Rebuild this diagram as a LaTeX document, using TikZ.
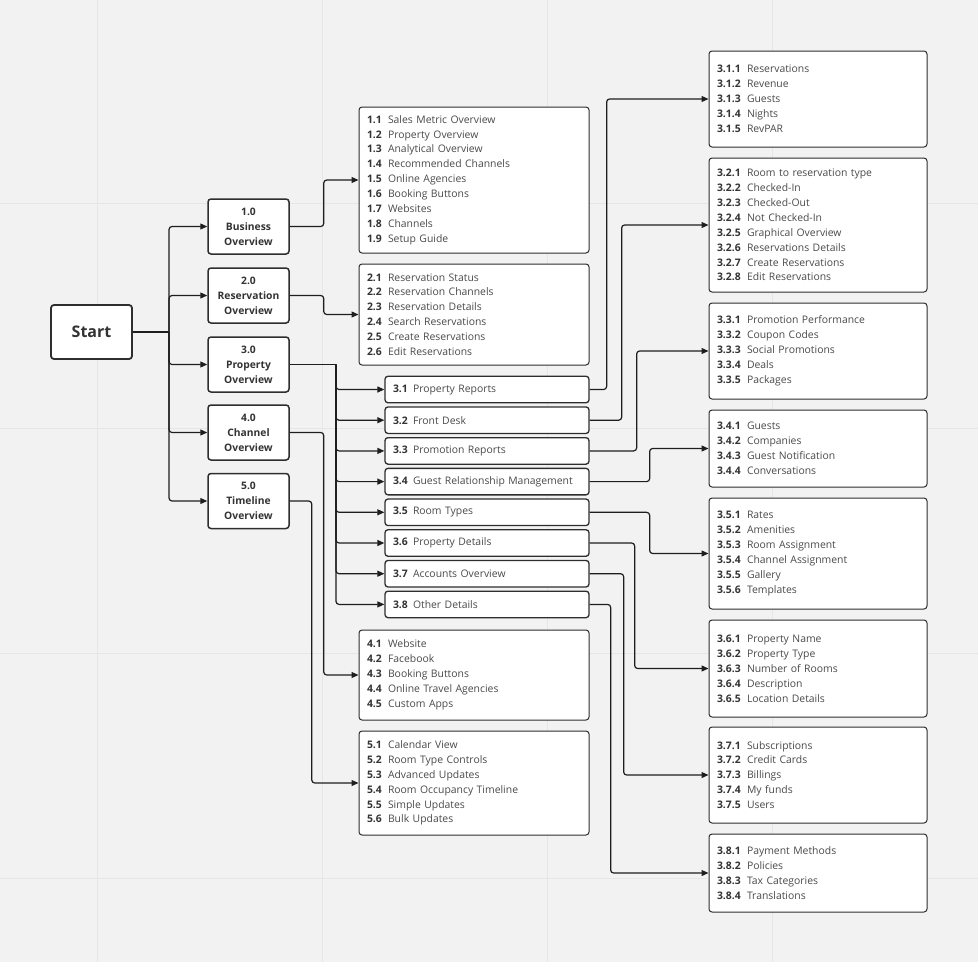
\documentclass[tikz,border=0pt]{standalone}
\usepackage{fontspec}
\setmainfont{Open Sans}
\usetikzlibrary{arrows.meta}
\definecolor{bgc}{HTML}{F2F2F2}
\definecolor{gridc}{HTML}{E6E6E6}
\definecolor{linec}{HTML}{1E1E1E}
\definecolor{boxc}{HTML}{2E2E2E}
\definecolor{numc}{HTML}{333333}
\definecolor{txtc}{HTML}{4A4A4A}
\newcommand\ia[2]{\makebox[21pt][l]{\bfseries\color{numc}#1}#2}
\newcommand\ib[2]{\makebox[20pt][l]{\bfseries\color{numc}#1}#2}
\newcommand\ic[2]{\makebox[30pt][l]{\bfseries\color{numc}#1}#2}
\begin{document}
\begin{tikzpicture}[x=1pt,y=-1pt,
  startbox/.style={draw=boxc, line width=1.8pt, fill=white, rounded corners=3pt,
    minimum width=81pt, minimum height=54pt, inner sep=0pt,
    font=\fontsize{16}{19}\selectfont\bfseries, text=numc},
  topbox/.style={draw=boxc, line width=1.5pt, fill=white, rounded corners=3pt,
    minimum width=81pt, minimum height=55pt, inner sep=0pt, align=center,
    font=\fontsize{10.3}{15}\selectfont\bfseries, text=numc},
  listbox/.style={draw=boxc, line width=1pt, fill=white, rounded corners=3pt,
    inner xsep=8pt, inner ysep=0pt, align=left,
    font=\fontsize{10.4}{14.9}\selectfont, text=txtc},
  midbox/.style={listbox, line width=1.3pt, text width=188pt, minimum height=26.5pt},
  rbox/.style={listbox, text width=202pt},
  conn/.style={draw=linec, line width=1.2pt, rounded corners=3pt, -{Triangle[length=7pt,width=6pt]}},
]
\useasboundingbox (0,0) rectangle (978,962);
\fill[bgc] (0,0) rectangle (978,962);
\foreach \gx in {97,322,547,772} \draw[gridc, line width=1pt] (\gx,0) -- (\gx,962);
\foreach \gy in {203,428,653,878} \draw[gridc, line width=1pt] (0,\gy) -- (978,\gy);

% Start and level 1
\node[startbox] (start) at (91.5,332) {Start};
\node[topbox] (l1) at (248.5,226.5) {1.0\\Business\\Overview};
\node[topbox] (l2) at (248.5,295.5) {2.0\\Reservation\\Overview};
\node[topbox] (l3) at (248.5,364.5) {3.0\\Property\\Overview};
\node[topbox] (l4) at (248.5,432.5) {4.0\\Channel\\Overview};
\node[topbox] (l5) at (248.5,501) {5.0\\Timeline\\Overview};

% Level 2 lists
\node[listbox, text width=214pt, minimum height=146pt] (b1) at (474,180) {%
\ia{1.1}{Sales Metric Overview}\\
\ia{1.2}{Property Overview}\\
\ia{1.3}{Analytical Overview}\\
\ia{1.4}{Recommended Channels}\\
\ia{1.5}{Online Agencies}\\
\ia{1.6}{Booking Buttons}\\
\ia{1.7}{Websites}\\
\ia{1.8}{Channels}\\
\ia{1.9}{Setup Guide}};
\node[listbox, text width=214pt, minimum height=101pt] (b2) at (474,314.5) {%
\ia{2.1}{Reservation Status}\\
\ia{2.2}{Reservation Channels}\\
\ia{2.3}{Reservation Details}\\
\ia{2.4}{Search Reservations}\\
\ia{2.5}{Create Reservations}\\
\ia{2.6}{Edit Reservations}};
\node[listbox, text width=214pt, minimum height=90pt] (b4) at (474,675) {%
\ia{4.1}{Website}\\
\ia{4.2}{Facebook}\\
\ia{4.3}{Booking Buttons}\\
\ia{4.4}{Online Travel Agencies}\\
\ia{4.5}{Custom Apps}};
\node[listbox, text width=214pt, minimum height=104pt] (b5) at (474,783) {%
\ia{5.1}{Calendar View}\\
\ia{5.2}{Room Type Controls}\\
\ia{5.3}{Advanced Updates}\\
\ia{5.4}{Room Occupancy Timeline}\\
\ia{5.5}{Simple Updates}\\
\ia{5.6}{Bulk Updates}};

% 3.x boxes
\node[midbox] (p1) at (487,389.5) {\ib{3.1}{Property Reports}};
\node[midbox] (p2) at (487,420.2) {\ib{3.2}{Front Desk}};
\node[midbox] (p3) at (487,450.9) {\ib{3.3}{Promotion Reports}};
\node[midbox] (p4) at (487,481.6) {\ib{3.4}{Guest Relationship Management}};
\node[midbox] (p5) at (487,512.3) {\ib{3.5}{Room Types}};
\node[midbox] (p6) at (487,543.0) {\ib{3.6}{Property Details}};
\node[midbox] (p7) at (487,573.7) {\ib{3.7}{Accounts Overview}};
\node[midbox] (p8) at (487,604.4) {\ib{3.8}{Other Details}};

% Level 3 lists
\node[rbox, minimum height=96pt] (r1) at (818,99) {%
\ic{3.1.1}{Reservations}\\
\ic{3.1.2}{Revenue}\\
\ic{3.1.3}{Guests}\\
\ic{3.1.4}{Nights}\\
\ic{3.1.5}{RevPAR}};
\node[rbox, minimum height=134pt] (r2) at (818,225) {%
\ic{3.2.1}{Room to reservation type}\\
\ic{3.2.2}{Checked-In}\\
\ic{3.2.3}{Checked-Out}\\
\ic{3.2.4}{Not Checked-In}\\
\ic{3.2.5}{Graphical Overview}\\
\ic{3.2.6}{Reservations Details}\\
\ic{3.2.7}{Create Reservations}\\
\ic{3.2.8}{Edit Reservations}};
\node[rbox, minimum height=96pt] (r3) at (818,351) {%
\ic{3.3.1}{Promotion Performance}\\
\ic{3.3.2}{Coupon Codes}\\
\ic{3.3.3}{Social Promotions}\\
\ic{3.3.4}{Deals}\\
\ic{3.3.5}{Packages}};
\node[rbox, minimum height=77pt] (r4) at (818,448.5) {%
\ic{3.4.1}{Guests}\\
\ic{3.4.2}{Companies}\\
\ic{3.4.3}{Guest Notification}\\
\ic{3.4.4}{Conversations}};
\node[rbox, minimum height=111pt] (r5) at (818,553.5) {%
\ic{3.5.1}{Rates}\\
\ic{3.5.2}{Amenities}\\
\ic{3.5.3}{Room Assignment}\\
\ic{3.5.4}{Channel Assignment}\\
\ic{3.5.5}{Gallery}\\
\ic{3.5.6}{Templates}};
\node[rbox, minimum height=97pt] (r6) at (818,668.5) {%
\ic{3.6.1}{Property Name}\\
\ic{3.6.2}{Property Type}\\
\ic{3.6.3}{Number of Rooms}\\
\ic{3.6.4}{Description}\\
\ic{3.6.5}{Location Details}};
\node[rbox, minimum height=96pt] (r7) at (818,775) {%
\ic{3.7.1}{Subscriptions}\\
\ic{3.7.2}{Credit Cards}\\
\ic{3.7.3}{Billings}\\
\ic{3.7.4}{My funds}\\
\ic{3.7.5}{Users}};
\node[rbox, minimum height=78pt] (r8) at (818,873) {%
\ic{3.8.1}{Payment Methods}\\
\ic{3.8.2}{Policies}\\
\ic{3.8.3}{Tax Categories}\\
\ic{3.8.4}{Translations}};

% Connectors: start to level 1
\coordinate (js) at (169,332);
\draw[draw=linec, line width=1.9pt] (start.east) -- (js);
\foreach \n in {l1,l2,l3,l4,l5} \draw[conn] (js) |- (\n.west);

% level 1 to lists
\draw[conn] (l1.east) -- ++(34,0) |- (b1.west);
\draw[conn] (l2.east) -- ++(34,0) |- (b2.west);
\draw[conn] (l4.east) -- ++(34,0) |- (b4.west);
\draw[conn] (l5.east) -- ++(22,0) |- (b5.west);

% 3.0 to 3.x
\coordinate (j3) at (336,364.5);
\draw[draw=linec, line width=1.9pt] (l3.east) -- (j3);
\foreach \n in {p1,p2,p3,p4,p5,p6,p7,p8} \draw[conn] (j3) |- (\n.west);

% 3.x to level 3 lists
\draw[conn] (p1.east) -- ++(17,0) |- (r1.west);
\draw[conn] (p2.east) -- ++(32,0) |- (r2.west);
\draw[conn] (p3.east) -- ++(47,0) |- (r3.west);
\draw[conn] (p4.east) -- ++(60,0) |- (r4.west);
\draw[conn] (p5.east) -- ++(60,0) |- (r5.west);
\draw[conn] (p6.east) -- ++(45,0) |- (r6.west);
\draw[conn] (p7.east) -- ++(34,0) |- (r7.west);
\draw[conn] (p8.east) -- ++(21,0) |- (r8.west);
\end{tikzpicture}
\end{document}
